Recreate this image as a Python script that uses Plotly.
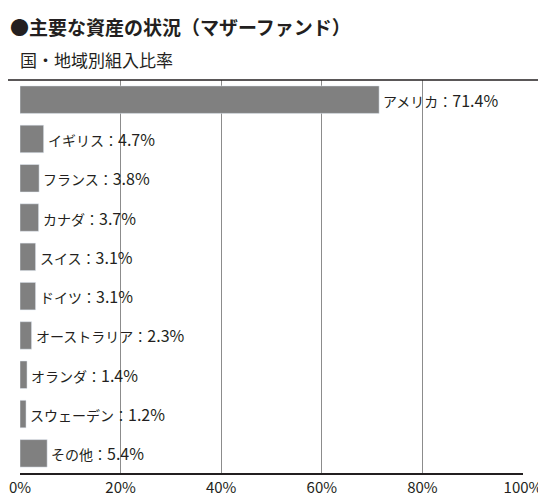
import plotly.graph_objects as go

countries = ["アメリカ","イギリス","フランス","カナダ","スイス","ドイツ","オーストラリア","オランダ","スウェーデン","その他"]
values = [71.4,4.7,3.8,3.7,3.1,3.1,2.3,1.4,1.2,5.4]
ticks = [0,20,40,60,80,100]
tick_labels = [f"{t}%" for t in ticks]

font = "Noto Sans CJK JP"
fig = go.Figure(go.Bar(y=countries, x=values, orientation="h", marker_color="#808080",
                       width=0.7, hoverinfo="skip", cliponaxis=False))
for c, v in zip(countries, values):
    fig.add_annotation(x=v, y=c, xref="x", yref="y", xanchor="left", xshift=2, showarrow=False,
                       text=f"<span style='font-size:14px'>{c}：</span><span style='font-size:16px'>{v}%</span>",
                       font=dict(family=font, color="#231f20"))
fig.update_layout(
    width=546, height=504, margin=dict(l=12, r=31, t=72, b=39, autoexpand=False),
    paper_bgcolor="white", plot_bgcolor="white", showlegend=False,
    font=dict(family=font, color="#231f20"),
    xaxis=dict(range=[0,100], tickvals=ticks, ticktext=tick_labels, showgrid=True,
               gridcolor="#8c8c8c", gridwidth=1, showline=True, linecolor="#231f20",
               linewidth=1.5, ticks="", tickfont=dict(size=15), zeroline=False,
               automargin=False),
    yaxis=dict(autorange="reversed", showticklabels=False, showgrid=False, ticks="",
               showline=False, automargin=False),
    shapes=[dict(type="line", xref="paper", yref="paper", x0=-0.03, x1=1.06, y0=1, y1=1,
                 line=dict(color="#231f20", width=1.5))],
)
fig.add_annotation(x=0, y=1, xref="paper", yref="paper", xanchor="left", yanchor="bottom",
                   xshift=-12, yshift=38, showarrow=False,
                   text="<b>●主要な資産の状況（マザーファンド）</b>", font=dict(size=19))
fig.add_annotation(x=0, y=1, xref="paper", yref="paper", xanchor="left", yanchor="bottom",
                   xshift=-2, yshift=6, showarrow=False,
                   text="国・地域別組入比率", font=dict(size=17))
fig.write_html("out.html")
